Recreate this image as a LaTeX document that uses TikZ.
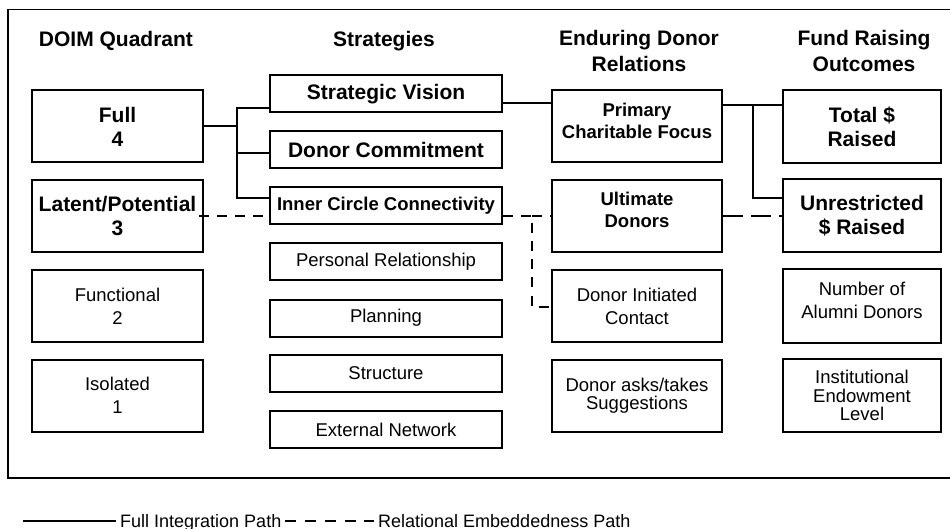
\documentclass[tikz,border=0pt]{standalone}
\usepackage{fontspec}
\setmainfont{Liberation Sans}

\begin{document}
\begin{tikzpicture}[x=1pt,y=-1pt,
  box/.style={draw, line width=2pt, align=center, inner sep=0pt},
  quad/.style={box, minimum width=171pt, minimum height=72pt},
  strat/.style={box, minimum width=232pt, minimum height=37pt},
  rel/.style={box, minimum width=170pt, minimum height=72pt},
  outc/.style={box, minimum width=158pt, minimum height=73pt},
  big/.style={font=\fontsize{21}{24}\selectfont\bfseries},
  mid/.style={font=\fontsize{18.5}{22}\selectfont\bfseries},
  plain/.style={font=\fontsize{18.5}{23}\selectfont},
  tight/.style={font=\fontsize{18.5}{18.5}\selectfont},
  lift/.style={text depth=12pt},
  head/.style={font=\fontsize{21}{26}\selectfont\bfseries, align=center, anchor=base},
  legend/.style={font=\fontsize{18}{20}\selectfont, inner sep=4pt, anchor=base west},
  full/.style={line width=2pt},
  emb/.style={line width=2pt, dash pattern=on 10pt off 8pt}]

  \useasboundingbox (0,0) rectangle (950,529);
  \draw[line width=1.4pt] (8,9.5) rectangle (960,478);

  \node[head] (hq) at (116,47) {DOIM Quadrant};
  \node[head] (hs) at (384,47) {Strategies};
  \node[head] (hr) at (639,72) {Enduring Donor\\Relations};
  \node[head] (ho) at (864,72) {Fund Raising\\Outcomes};

  \node[quad,big]   (q4) at (117.5,126.5) {Full\\4};
  \node[quad,big]   (q3) at (117.5,216)   {Latent/Potential\\3};
  \node[quad,plain] (q2) at (117.5,306)   {Functional\\2};
  \node[quad,plain] (q1) at (117.5,395.5) {Isolated\\1};

  \node[strat,big]   (sv) at (386,94)    {Strategic Vision};
  \node[strat,big]   (dc) at (386,150)   {Donor Commitment};
  \node[strat,mid]   (ic) at (386,206)   {Inner Circle Connectivity};
  \node[strat,plain] (pr) at (386,262)   {Personal Relationship};
  \node[strat,plain] (pl) at (386,318)   {Planning};
  \node[strat,plain] (st) at (386,373.5) {Structure};
  \node[strat,plain] (en) at (386,429.5) {External Network};

  \node[rel,mid,lift] (pf) at (637,126.5) {Primary\\Charitable Focus};
  \node[rel,mid,lift] (ud) at (637,216)   {Ultimate\\Donors};
  \node[rel,plain]    (di) at (637,306)   {Donor Initiated\\Contact};
  \node[rel,tight]    (da) at (637,395.5) {Donor asks/takes\\Suggestions};

  \node[outc,big]        (tr) at (862,126.5) {Total \$\\Raised};
  \node[outc,big]        (ur) at (862,216)   {Unrestricted\\\$ Raised};
  \node[outc,plain,lift] (na) at (862,306)   {Number of\\Alumni Donors};
  \node[outc,tight]      (ie) at (862,395.5) {Institutional\\Endowment\\Level};

  % full integration path
  \coordinate (j0) at (236.5,126.5);
  \coordinate (ja) at (236.5,108);
  \coordinate (jb) at (236.5,153);
  \coordinate (jc) at (236.5,198);
  \coordinate (ka) at (527,103.5);
  \coordinate (jd) at (753,105);
  \coordinate (je) at (753,198);
  \draw[full] (q4.east) -- (j0);
  \draw[full] (sv.west |- ja) -- (ja) -- (jc) -- (ic.west |- jc);
  \draw[full] (jb) -- (dc.west |- jb);
  \draw[full] (sv.east |- ka) -- (pf.west |- ka);
  \draw[full] (pf.east |- jd) -- (tr.west |- jd);
  \draw[full] (jd) -- (je) -- (ur.west |- je);

  % relational embeddedness path
  \coordinate (jf) at (532,216.5);
  \coordinate (jg) at (532,307);
  \draw[emb] ([xshift=-5pt]q3.east) -- (ic.west |- q3.east);
  \draw[emb] (ic.east |- jf) -- (jf) -- (jg) -- (di.west |- jg);
  \draw[emb] (jf) -- (ud.west |- jf);
  \draw[emb, dash pattern=on 20pt off 8pt] (ud.east |- jf) -- (ur.west |- jf);

  % legend
  \coordinate (la) at (23,521);
  \node[legend] (lf) at (116,527) {Full Integration Path};
  \node[legend] (le) at (374,527) {Relational Embeddedness Path};
  \draw[line width=1.8pt] (la) -- (lf.west |- la);
  \draw[line width=1.8pt, dash pattern=on 11pt off 8.75pt] (lf.east |- la) -- (le.west |- la);
\end{tikzpicture}
\end{document}
